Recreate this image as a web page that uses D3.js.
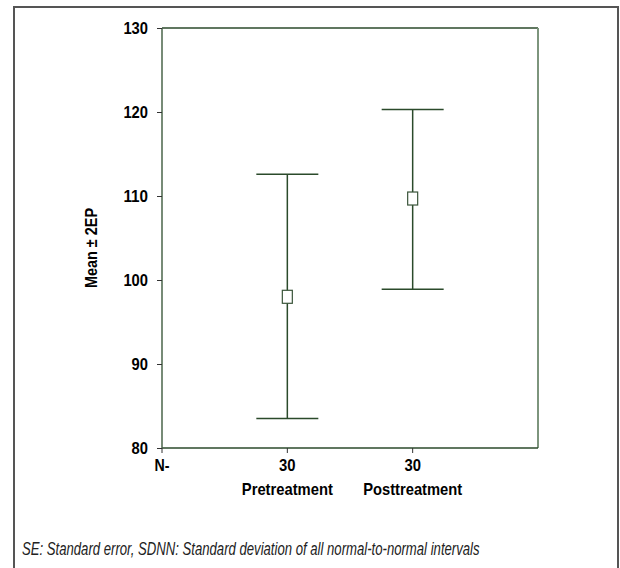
<!DOCTYPE html>
<meta charset="utf-8">
<script src="https://d3js.org/d3.v7.min.js"></script>
<style>
  body { margin: 0; background: #fff; }
  text { font-family: "Liberation Sans", Arial, sans-serif; }
</style>
<div id="chart"></div>
<script>
// values
var groups = ["Pretreatment", "Posttreatment"];
var groupWidths = [91, 99];   // label widths in the condensed original
var counts = [30, 30];
var means = [98.0, 109.7];
var lower = [83.5, 98.9];
var upper = [112.6, 120.3];
var yTicks = [80, 90, 100, 110, 120, 130];

var W = 620, H = 568;
var frame = {left: 162, right: 538, top: 28, bottom: 448};
var green = "#2b4a2b";

var svg = d3.select("#chart").append("svg")
    .attr("width", W)
    .attr("height", H);

// outer figure border
svg.append("rect")
    .attr("x", 14).attr("y", 7)
    .attr("width", 604).attr("height", 600)
    .attr("fill", "none")
    .attr("stroke", "#555")
    .attr("stroke-width", 2);

var x = d3.scalePoint()
    .domain(["N-"].concat(groups).concat([" "]))
    .range([frame.left, frame.right]);

var y = d3.scaleLinear()
    .domain([80, 130])
    .range([frame.bottom, frame.top]);

// plot frame
svg.append("line").attr("x1", frame.left).attr("x2", frame.right)
    .attr("y1", frame.top).attr("y2", frame.top)
    .attr("stroke", green).attr("stroke-width", 1.5);
svg.append("line").attr("x1", frame.right).attr("x2", frame.right)
    .attr("y1", frame.top).attr("y2", frame.bottom)
    .attr("stroke", "#7d957d").attr("stroke-width", 2);
svg.append("line").attr("x1", frame.left).attr("x2", frame.right)
    .attr("y1", frame.bottom).attr("y2", frame.bottom)
    .attr("stroke", green).attr("stroke-width", 1.5);
svg.append("line").attr("x1", frame.left).attr("x2", frame.left)
    .attr("y1", frame.top).attr("y2", frame.bottom)
    .attr("stroke", "#4a654a").attr("stroke-width", 1.5);

// y axis
var yAxis = svg.append("g")
    .attr("transform", "translate(" + frame.left + ",0)")
    .call(d3.axisLeft(y).tickValues(yTicks).tickSize(5).tickPadding(9));
yAxis.select(".domain").remove();
yAxis.selectAll(".tick line").attr("stroke", "#333");
yAxis.selectAll(".tick text")
    .attr("fill", "#000")
    .style("font-size", "17px")
    .style("font-weight", "bold")
    .attr("textLength", function(d) { return String(d).length * 8.2; })
    .attr("lengthAdjust", "spacingAndGlyphs");

// x axis ticks and N labels
var xs = ["N-"].concat(groups);
svg.append("g").selectAll("line")
    .data(xs).enter().append("line")
    .attr("x1", function(d) { return x(d); })
    .attr("x2", function(d) { return x(d); })
    .attr("y1", frame.bottom)
    .attr("y2", frame.bottom + 5)
    .attr("stroke", "#333");

svg.append("text")
    .attr("x", x("N-"))
    .attr("y", 471)
    .attr("text-anchor", "middle")
    .attr("fill", "#000")
    .style("font-size", "17px")
    .style("font-weight", "bold")
    .attr("textLength", 15)
    .attr("lengthAdjust", "spacingAndGlyphs")
    .text("N-");

svg.append("g").selectAll("text")
    .data(groups).enter().append("text")
    .attr("x", function(d) { return x(d); })
    .attr("y", 471)
    .attr("text-anchor", "middle")
    .attr("fill", "#000")
    .style("font-size", "17px")
    .style("font-weight", "bold")
    .attr("textLength", 16.5)
    .attr("lengthAdjust", "spacingAndGlyphs")
    .text(function(d, i) { return counts[i]; });

svg.append("g").selectAll("text")
    .data(groups).enter().append("text")
    .attr("x", function(d) { return x(d); })
    .attr("y", 495)
    .attr("text-anchor", "middle")
    .attr("fill", "#000")
    .style("font-size", "17px")
    .style("font-weight", "bold")
    .attr("textLength", function(d, i) { return groupWidths[i]; })
    .attr("lengthAdjust", "spacingAndGlyphs")
    .text(function(d) { return d; });

// y title
svg.append("text")
    .attr("transform", "translate(97,248) rotate(-90)")
    .attr("text-anchor", "middle")
    .attr("fill", "#000")
    .style("font-size", "17px")
    .style("font-weight", "bold")
    .attr("textLength", 80)
    .attr("lengthAdjust", "spacingAndGlyphs")
    .text("Mean \u00b1 2EP");

// error bars
var cap = 31;
var bars = svg.append("g").selectAll("g")
    .data(groups).enter().append("g");

bars.append("line")
    .attr("x1", function(d) { return x(d); })
    .attr("x2", function(d) { return x(d); })
    .attr("y1", function(d, i) { return y(upper[i]); })
    .attr("y2", function(d, i) { return y(lower[i]); })
    .attr("stroke", green).attr("stroke-width", 1.5);

bars.append("line")
    .attr("x1", function(d) { return x(d) - cap; })
    .attr("x2", function(d) { return x(d) + cap; })
    .attr("y1", function(d, i) { return y(upper[i]); })
    .attr("y2", function(d, i) { return y(upper[i]); })
    .attr("stroke", green).attr("stroke-width", 1.5);

bars.append("line")
    .attr("x1", function(d) { return x(d) - cap; })
    .attr("x2", function(d) { return x(d) + cap; })
    .attr("y1", function(d, i) { return y(lower[i]); })
    .attr("y2", function(d, i) { return y(lower[i]); })
    .attr("stroke", green).attr("stroke-width", 1.5);

bars.append("rect")
    .attr("x", function(d) { return x(d) - 5; })
    .attr("y", function(d, i) { return y(means[i]) - 6.5; })
    .attr("width", 10)
    .attr("height", 13)
    .attr("fill", "#fff")
    .attr("stroke", "#3a553a")
    .attr("stroke-width", 1.2);

// caption, squeezed horizontally to look like the narrow original
var caption = svg.append("text")
    .attr("x", 0)
    .attr("y", 0)
    .attr("fill", "#222")
    .style("font-size", "18.5px")
    .style("font-style", "italic")
    .text("SE: Standard error, SDNN: Standard deviation of all normal-to-normal intervals");
var capLen = caption.node().getComputedTextLength();
caption.attr("transform", "translate(22,555) scale(" + (458 / capLen) + ",1)");
</script>
